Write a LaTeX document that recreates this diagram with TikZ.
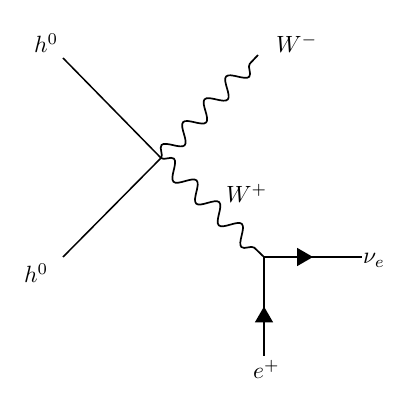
\documentclass[tikz,border=0pt]{standalone}
\usepackage{graphicx}
\usetikzlibrary{decorations.pathmorphing,decorations.markings,arrows.meta}
\newcommand{\lab}[1]{\scalebox{2.35}{$#1$}}
\begin{document}
\begin{tikzpicture}[x=1pt,y=1pt,
  line/.style={line width=1.5pt},
  boson/.style={line width=1.7pt,decorate,decoration={snake,segment length=31.4pt,amplitude=8.5pt}},
  fermion/.style={line width=1.8pt,postaction={decorate},decoration={markings,mark=at position 0.5 with {\arrow{Triangle[length=16pt,width=18pt]}}}},
  lab/.style={inner sep=0pt,anchor=base west}]
\useasboundingbox (0,0) rectangle (416,405);
\coordinate (ht) at (63,347);
\coordinate (hb) at (63,148);
\coordinate (v1) at (161,247);
\coordinate (wm) at (258,350);
\coordinate (v2) at (264,148);
\coordinate (nu) at (362,148);
\coordinate (ep) at (264,49);
\draw[line] (ht) -- (v1);
\draw[line] (hb) -- (v1);
\draw[boson] (v1) -- (wm);
\draw[boson] (v1) -- (v2);
\draw[fermion] (v2) -- (nu);
\draw[fermion] (ep) -- (v2);
\node[lab] (l1) at (34,352) {\lab{h^0}};
\node[lab] (l2) at (24,122) {\lab{h^0}};
\node[lab] (l3) at (276,352) {\lab{W^-}};
\node[lab] (l4) at (226,202) {\lab{W^+}};
\node[lab] (l5) at (363,141) {\lab{\nu_e}};
\node[lab] (l6) at (253,26) {\lab{e^+}};
\end{tikzpicture}
\end{document}
